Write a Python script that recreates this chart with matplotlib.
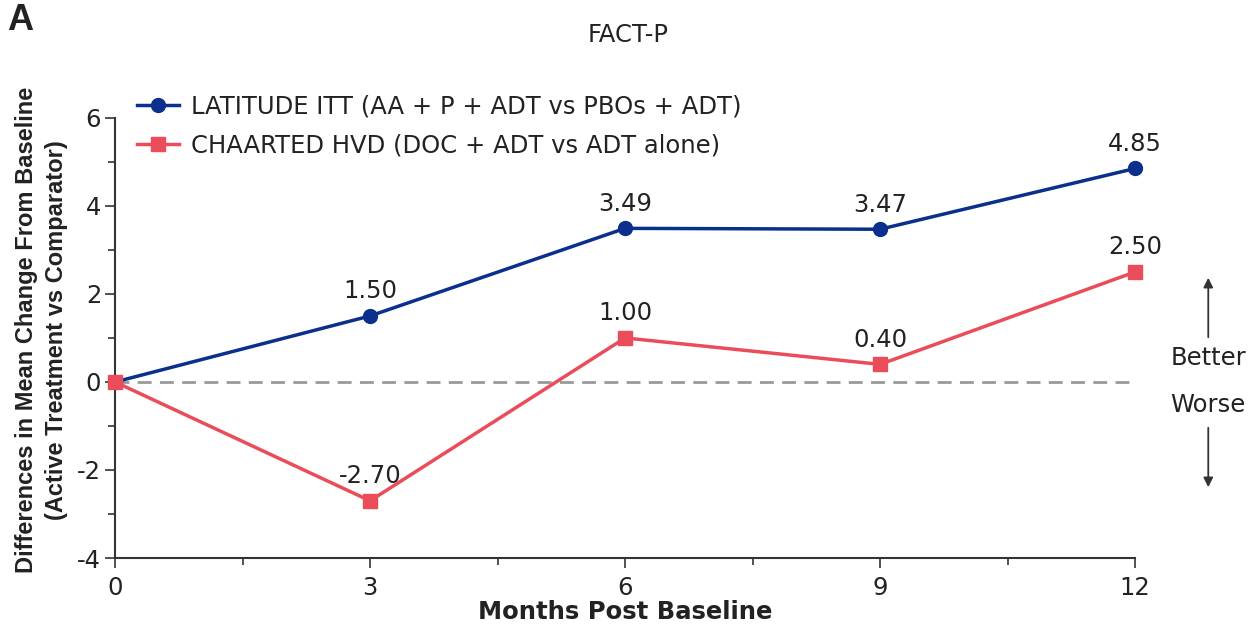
import numpy as np
import matplotlib.pyplot as plt
from matplotlib.ticker import MultipleLocator

months = [0, 3, 6, 9, 12]
latitude_vals = [0, 1.50, 3.49, 3.47, 4.85]
chaarted_vals = [0, -2.70, 1.00, 0.40, 2.50]
latitude_labels = ['', '1.50', '3.49', '3.47', '4.85']
chaarted_labels = ['', '-2.70', '1.00', '0.40', '2.50']

blue = '#0a2f8c'
red = '#eb4c5a'
txt = '#222222'
fs = 17.5

plt.rcParams['font.family'] = ['DejaVu Sans']
plt.rcParams['axes.unicode_minus'] = False

fig = plt.figure(figsize=(12.56, 6.27), dpi=100)
ax = fig.add_axes([0.0916, 0.110, 0.8121, 0.702])

ax.axhline(0, color='#999999', lw=2, ls=(0, (5, 3)), zorder=1)
ax.plot(months, latitude_vals, color=blue, lw=2.5, marker='o', ms=10,
        label='LATITUDE ITT (AA + P + ADT vs PBOs + ADT)', clip_on=False, zorder=3)
ax.plot(months, chaarted_vals, color=red, lw=2.5, marker='s', ms=10,
        label='CHAARTED HVD (DOC + ADT vs ADT alone)', clip_on=False, zorder=4)

# value labels above each point
for vals, labels in [(latitude_vals, latitude_labels), (chaarted_vals, chaarted_labels)]:
    for x, y, s in zip(months, vals, labels):
        if s:
            ax.annotate(s, (x, y), xytext=(0, 9), textcoords='offset points',
                        ha='center', va='bottom', fontsize=fs, color=txt)

ax.set_xlim(0, 12)
ax.set_ylim(-4, 6)
ax.set_xticks(months)
ax.set_yticks([-4, -2, 0, 2, 4, 6])
ax.xaxis.set_minor_locator(MultipleLocator(1.5))
ax.yaxis.set_minor_locator(MultipleLocator(1))
ax.tick_params(which='both', direction='out', color='#333333', width=1.2, labelsize=fs, labelcolor=txt)
ax.tick_params(which='major', length=7)
ax.tick_params(which='minor', length=5)
ax.tick_params(axis='x', pad=6)
ax.tick_params(axis='y', pad=3)
for side in ['top', 'right']:
    ax.spines[side].set_visible(False)
for side in ['left', 'bottom']:
    ax.spines[side].set_color('#333333')
    ax.spines[side].set_linewidth(1.5)

ax.set_xlabel('Months Post Baseline', fontsize=fs, fontweight='bold', color=txt, labelpad=0)
ax.set_ylabel('Differences in Mean Change From Baseline\n(Active Treatment vs Comparator)',
              fontsize=17, fontweight='bold', color=txt, linespacing=1.4,
              family=['Liberation Sans', 'DejaVu Sans'])
ax.yaxis.set_label_coords(-0.046, 0.518)

leg = fig.legend(*ax.get_legend_handles_labels(), loc='upper left',
                 bbox_to_anchor=(137 / 1256 - 0.0075, 1 - 85 / 627), frameon=False, fontsize=fs,
                 handlelength=1.7, labelspacing=0.6, handletextpad=0.5, borderaxespad=0)
for t in leg.get_texts():
    t.set_color(txt)

# better / worse annotation on the right
fig.text(0.962, 1 - 358 / 627, 'Better', ha='center', va='center', fontsize=fs, color=txt)
fig.text(0.962, 1 - 405 / 627, 'Worse', ha='center', va='center', fontsize=fs, color=txt)
ax.annotate('', xy=(0.962, 1 - 275 / 627), xytext=(0.962, 1 - 340 / 627), xycoords='figure fraction',
            arrowprops=dict(arrowstyle='-|>', color='#333333', lw=1.3, mutation_scale=14))
ax.annotate('', xy=(0.962, 1 - 490 / 627), xytext=(0.962, 1 - 425 / 627), xycoords='figure fraction',
            arrowprops=dict(arrowstyle='-|>', color='#333333', lw=1.3, mutation_scale=14))

fig.text(0.5, 1 - 35 / 627, 'FACT-P', ha='center', va='center', fontsize=fs, color=txt)
fig.text(0.006, 1 - 20 / 627, 'A', ha='left', va='center', fontsize=26, fontweight='bold', color=txt,
         family=['Liberation Sans', 'DejaVu Sans'])

fig.savefig('out.png', dpi=100)
